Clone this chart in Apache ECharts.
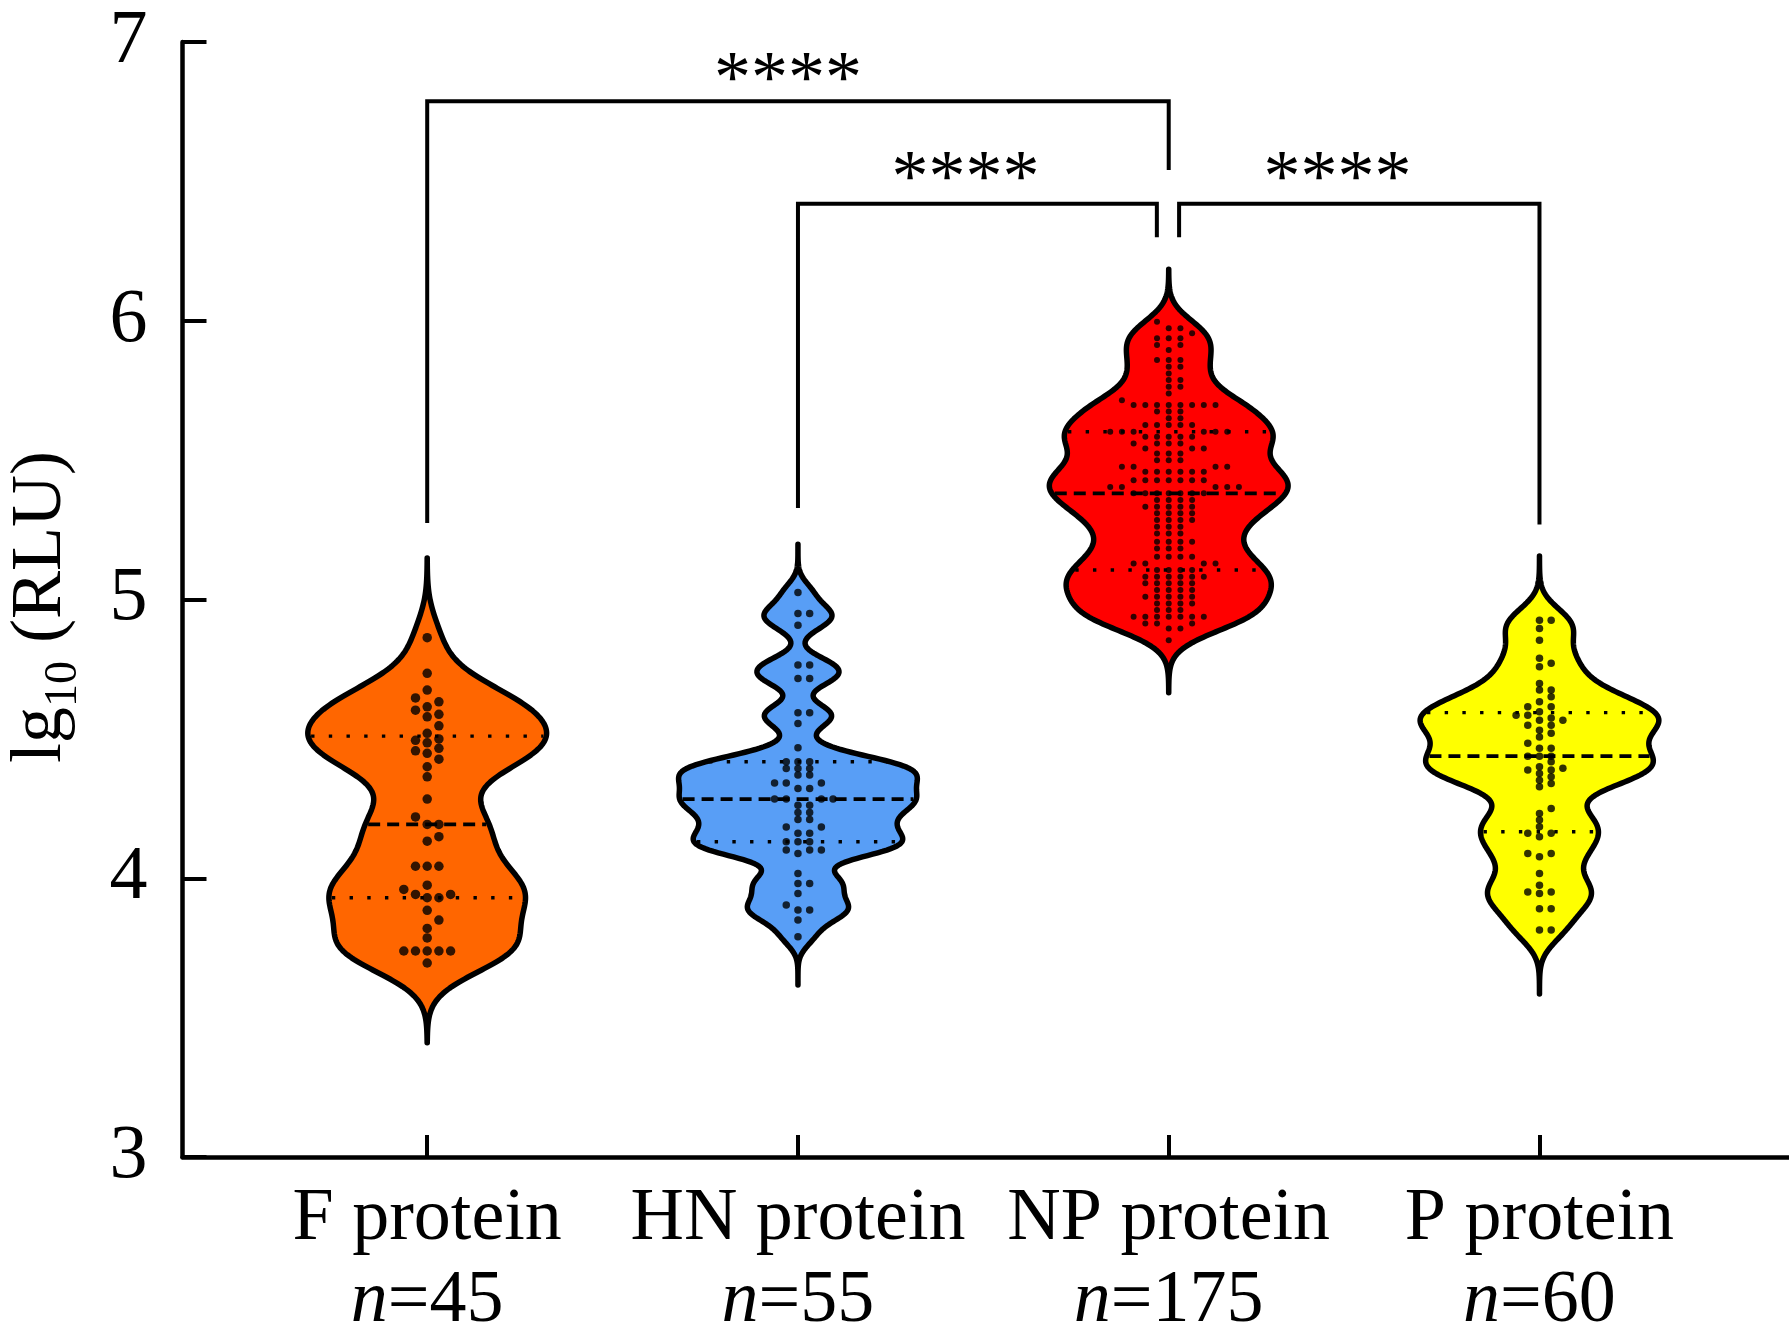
<!DOCTYPE html>
<html>
<head>
<meta charset="utf-8">
<script src="https://cdn.jsdelivr.net/npm/echarts@6/dist/echarts.min.js"></script>
<style>
  html, body { margin: 0; padding: 0; background: #fff; }
  #chart { width: 1789px; height: 1344px; }
</style>
</head>
<body>
<div id="chart"></div>
<script>
// ---- data ----
const groups = ["F protein", "HN protein", "NP protein", "P protein"];
const counts = [45, 55, 175, 60];
const colors = ["#ff6600", "#589ef6", "#ff0000", "#ffff00"];

const fProtein = [
  4.863, 4.735, 4.675, 4.647, 4.633, 4.615, 4.603, 4.588, 4.579, 4.547,
  4.52, 4.50, 4.495, 4.486, 4.466, 4.457, 4.448, 4.427, 4.400, 4.364,
  4.284, 4.220, 4.193, 4.193, 4.149, 4.133,
  4.043, 4.043, 4.043, 3.975, 3.960, 3.942, 3.942, 3.930, 3.930, 3.885,
  3.850, 3.820, 3.786, 3.739, 3.739, 3.739, 3.739, 3.739, 3.696
];
const hnProtein = [
  5.025, 4.950, 4.950, 4.908, 4.765, 4.765, 4.717, 4.717, 4.594, 4.594,
  4.555, 4.468, 4.418, 4.418, 4.418, 4.394, 4.394, 4.394, 4.370, 4.370,
  4.342, 4.342, 4.342, 4.322, 4.322, 4.284, 4.284, 4.284, 4.284, 4.262,
  4.262, 4.236, 4.236, 4.211, 4.211, 4.184, 4.184, 4.161, 4.161, 4.131,
  4.131, 4.131, 4.101, 4.101, 4.101, 4.089, 4.017, 3.981, 3.981, 3.945,
  3.904, 3.886, 3.886, 3.850, 3.790
];
const npProtein = [
  5.996, 5.973, 5.973, 5.955, 5.937, 5.937, 5.937, 5.913, 5.913, 5.895,
  5.859, 5.859, 5.859, 5.835, 5.835, 5.811, 5.787, 5.787, 5.763, 5.763,
  5.739, 5.715,
  5.698, 5.698, 5.698, 5.698, 5.698, 5.698, 5.698, 5.698,
  5.674, 5.674, 5.674, 5.650, 5.650,
  5.626, 5.626, 5.626, 5.626, 5.626,
  5.602, 5.602, 5.602, 5.602, 5.602, 5.602,
  5.584, 5.584, 5.584, 5.584, 5.584,
  5.560, 5.560, 5.560, 5.560, 5.542, 5.542, 5.542, 5.524, 5.524, 5.524,
  5.500, 5.500, 5.500, 5.476, 5.476, 5.476, 5.476,
  5.458, 5.458, 5.458, 5.458, 5.458, 5.458,
  5.428, 5.428, 5.428, 5.428, 5.428, 5.428, 5.428,
  5.404, 5.404, 5.404, 5.404, 5.404,
  5.381, 5.381, 5.381, 5.381, 5.381, 5.381, 5.381,
  5.357, 5.357, 5.357, 5.357, 5.333, 5.333, 5.333, 5.333, 5.333,
  5.309, 5.309, 5.309, 5.309, 5.285, 5.285, 5.285, 5.285,
  5.261, 5.261, 5.261, 5.237, 5.237, 5.237,
  5.207, 5.207, 5.207, 5.207, 5.183, 5.183, 5.183,
  5.153, 5.153, 5.153, 5.153, 5.129, 5.129, 5.129, 5.129,
  5.106, 5.106, 5.106, 5.106,
  5.082, 5.082, 5.082, 5.082, 5.082, 5.082,
  5.058, 5.058, 5.058, 5.058, 5.058, 5.034, 5.034, 5.034, 5.034,
  5.010, 5.010, 5.010, 5.010, 5.010, 4.986, 4.986, 4.986, 4.986,
  4.962, 4.962, 4.962,
  4.938, 4.938, 4.938, 4.938, 4.938, 4.938, 4.938,
  4.914, 4.914, 4.914, 4.896, 4.896, 4.854
];
const pProtein = [
  4.926, 4.926, 4.896, 4.854, 4.789, 4.771, 4.759, 4.699, 4.675, 4.675,
  4.651, 4.633, 4.615, 4.615, 4.597, 4.585, 4.585, 4.575, 4.567, 4.567,
  4.549, 4.549, 4.531, 4.52, 4.507, 4.484, 4.466, 4.466, 4.438, 4.438,
  4.438,
  4.418, 4.400, 4.395, 4.388, 4.388, 4.376, 4.364, 4.352, 4.340, 4.328,
  4.250, 4.232, 4.209, 4.185, 4.161, 4.161, 4.149, 4.089, 4.089, 4.077,
  4.017, 3.975, 3.951, 3.951, 3.945, 3.891, 3.891, 3.814, 3.814
];
const groupValues = [fProtein, hnProtein, npProtein, pProtein];

// significance brackets: x from/to, bar height, leg ends
const brackets = [
  { from: 1, to: 3, top: 6.787, legFrom: 5.274, legTo: 6.541 },
  { from: 2, to: 2.968, top: 6.42, legFrom: 5.328, legTo: 6.30 },
  { from: 3.028, to: 4, top: 6.42, legFrom: 6.30, legTo: 5.269 }
];
const starLabels = ["****", "****", "****"];
const starX = [1.973, 2.452, 3.455];
const starY = [6.855, 6.50, 6.50];

// ---- layout / style ----
const SERIF = "'Liberation Serif', 'Times New Roman', serif";
const xMin = 0.34, xMax = 4.673;
const halfMax = 0.322;                  // max half width of each violin (x units)
const smooth = [0.6, 0.45, 0.6, 0.5];   // kernel width relative to Silverman's rule
const colStep = 11.7;                   // px between dot columns
const dotSize = [9.5, 7.5, 6, 7.5];
const dotGap = [9, 6.5, 6.5, 5.5];

function quantile(sorted, p) {
  const n = sorted.length;
  const pos = (n + 1) * p;
  if (pos <= 1) return sorted[0];
  if (pos >= n) return sorted[n - 1];
  const lo = Math.floor(pos), fr = pos - lo;
  return sorted[lo - 1] + fr * (sorted[lo] - sorted[lo - 1]);
}

function bandwidth(sorted) {
  const n = sorted.length;
  const mean = sorted.reduce((a, b) => a + b, 0) / n;
  const sd = Math.sqrt(sorted.reduce((a, b) => a + (b - mean) * (b - mean), 0) / (n - 1));
  const iqr = quantile(sorted, 0.75) - quantile(sorted, 0.25);
  return 0.9 * Math.min(sd, iqr / 1.34) * Math.pow(n, -0.2);
}

function kde(sorted, hs, k) {
  const h = hs * k;
  const lo = sorted[0] - 2 * hs, hi = sorted[sorted.length - 1] + 2 * hs;
  const steps = 320;
  const pts = [];
  let maxD = 0;
  for (let i = 0; i <= steps; i++) {
    const y = lo + (hi - lo) * i / steps;
    let d = 0;
    for (const v of sorted) d += Math.exp(-0.5 * ((y - v) / h) * ((y - v) / h));
    pts.push([y, d]);
    if (d > maxD) maxD = d;
  }
  return pts.map(p => [p[0], p[1] / maxD * halfMax]);
}

function widthAt(profile, y) {
  for (let i = 1; i < profile.length; i++) {
    if (profile[i][0] >= y) {
      const a = profile[i - 1], b = profile[i];
      const t = (y - a[0]) / (b[0] - a[0]);
      return a[1] + t * (b[1] - a[1]);
    }
  }
  return 0;
}

const sortedGroups = groupValues.map(v => v.slice().sort((a, b) => a - b));
const profiles = sortedGroups.map((s, i) => kde(s, bandwidth(s), smooth[i]));
const stats = sortedGroups.map(s => ({
  q1: quantile(s, 0.25), med: quantile(s, 0.5), q3: quantile(s, 0.75)
}));

const chart = echarts.init(document.getElementById('chart'), null, { renderer: 'canvas' });

function violinItem(params, api) {
  const gi = params.dataIndex;
  const c = gi + 1;
  const prof = profiles[gi];
  const pts = [];
  for (const [y, w] of prof) pts.push(api.coord([c + w, y]));
  for (let i = prof.length - 1; i >= 0; i--) pts.push(api.coord([c - prof[i][1], prof[i][0]]));
  const children = [{
    type: 'polygon',
    shape: { points: pts },
    style: { fill: colors[gi], stroke: '#000', lineWidth: 5.5, lineJoin: 'round' }
  }];
  const qLine = (q, dash, width) => {
    const w = widthAt(prof, q) - 0.008;
    const a = api.coord([c - w, q]), b = api.coord([c + w, q]);
    return {
      type: 'line',
      shape: { x1: a[0], y1: a[1], x2: b[0], y2: b[1] },
      style: { stroke: '#000', lineWidth: width, lineDash: dash },
      z2: 5
    };
  };
  children.push(qLine(stats[gi].med, [12, 7], 3.8));
  children.push(qLine(stats[gi].q1, [3.4, 14.3], 3.4));
  children.push(qLine(stats[gi].q3, [3.4, 14.3], 3.4));
  return { type: 'group', children };
}

const baseOption = {
  animation: false,
  backgroundColor: '#fff',
  grid: { left: 182.5, right: 0, top: 42, bottom: 187 },
  xAxis: {
    type: 'value', min: xMin, max: xMax,
    axisLine: { show: true, onZero: false, lineStyle: { color: '#000', width: 4.5 } },
    axisTick: { show: true, inside: true, length: 22, customValues: [1, 2, 3, 4],
      lineStyle: { color: '#000', width: 4 } },
    axisLabel: {
      customValues: [1, 2, 3, 4], margin: 22, color: '#000', fontFamily: SERIF,
      fontSize: 74, lineHeight: 82,
      formatter: v => {
        const i = Math.round(v) - 1;
        return groups[i] + '\n{i|n}=' + counts[i];
      },
      rich: { i: { fontStyle: 'italic', fontFamily: SERIF, fontSize: 74, lineHeight: 82, color: '#000' } }
    },
    splitLine: { show: false }
  },
  yAxis: {
    type: 'value', min: 3, max: 7, interval: 1,
    axisLine: { show: true, onZero: false, lineStyle: { color: '#000', width: 4.5 } },
    axisTick: { show: true, inside: true, length: 24, lineStyle: { color: '#000', width: 4 } },
    axisLabel: { margin: 35, color: '#000', fontFamily: SERIF, fontSize: 76 },
    splitLine: { show: false }
  },
  series: [{
    type: 'custom',
    name: 'violin',
    renderItem: violinItem,
    data: groups.map((g, i) => [i + 1, stats[i].med]),
    clip: false,
    silent: true,
    z: 2
  }]
};
chart.setOption(baseOption);

// pixel scale of the axes, used to lay out the dot swarm
const p1 = chart.convertToPixel({ gridIndex: 0 }, [1, 3]);
const p2 = chart.convertToPixel({ gridIndex: 0 }, [2, 4]);
const pxPerX = p2[0] - p1[0];
const pxPerY = p1[1] - p2[1];

function swarm(sorted, gi) {
  const placed = [];
  const out = [];
  for (const v of sorted) {
    const py = v * pxPerY;
    let k = 0;
    for (let t = 0; t < 60; t++) {
      const cand = t === 0 ? 0 : (t % 2 === 1 ? (t + 1) / 2 : -t / 2);
      const clash = placed.some(p => p.k === cand && Math.abs(p.py - py) < dotGap[gi]);
      if (!clash) { k = cand; break; }
    }
    placed.push({ k, py });
    out.push([gi + 1 + k * colStep / pxPerX, v]);
  }
  return out;
}

const dotSeries = sortedGroups.map((s, gi) => ({
  type: 'scatter',
  name: groups[gi],
  data: swarm(s, gi),
  symbol: 'circle',
  symbolSize: dotSize[gi],
  itemStyle: { color: '#000' },
  silent: true,
  z: 3
}));

const bracketSeries = brackets.map(b => ({
  type: 'line',
  data: [[b.from, b.legFrom], [b.from, b.top], [b.to, b.top], [b.to, b.legTo]],
  symbol: 'none',
  lineStyle: { color: '#000', width: 4, join: 'miter' },
  silent: true,
  z: 4
}));

// y-axis title: lg_10 (RLU), drawn rotated
const meas = document.createElement('canvas').getContext('2d');
function tw(text, size) { meas.font = size + "px 'Liberation Serif'"; return meas.measureText(text).width; }
const tSize = 72, subSize = 46;
const wLg = tw('lg', tSize), wSub = tw('10', subSize);

const starGraphics = starLabels.map((s, i) => {
  const p = chart.convertToPixel({ gridIndex: 0 }, [starX[i], starY[i]]);
  return {
    type: 'text', x: p[0], y: p[1],
    style: { text: s, font: "74px 'Liberation Serif'", fill: '#000', align: 'center', verticalAlign: 'middle' }
  };
});

chart.setOption({
  series: [baseOption.series[0]].concat(dotSeries, bracketSeries),
  graphic: starGraphics.concat([{
    type: 'group', x: 62, y: 763, rotation: Math.PI / 2,
    children: [
      { type: 'text', x: 0, y: -21,
        style: { text: 'lg', font: tSize + "px 'Liberation Serif'", fill: '#000', align: 'left', verticalAlign: 'middle' } },
      { type: 'text', x: wLg, y: 2,
        style: { text: '10', font: subSize + "px 'Liberation Serif'", fill: '#000', align: 'left', verticalAlign: 'middle' } },
      { type: 'text', x: wLg + wSub, y: -21,
        style: { text: ' (RLU)', font: tSize + "px 'Liberation Serif'", fill: '#000', align: 'left', verticalAlign: 'middle' } }
    ]
  }])
});
</script>
</body>
</html>
